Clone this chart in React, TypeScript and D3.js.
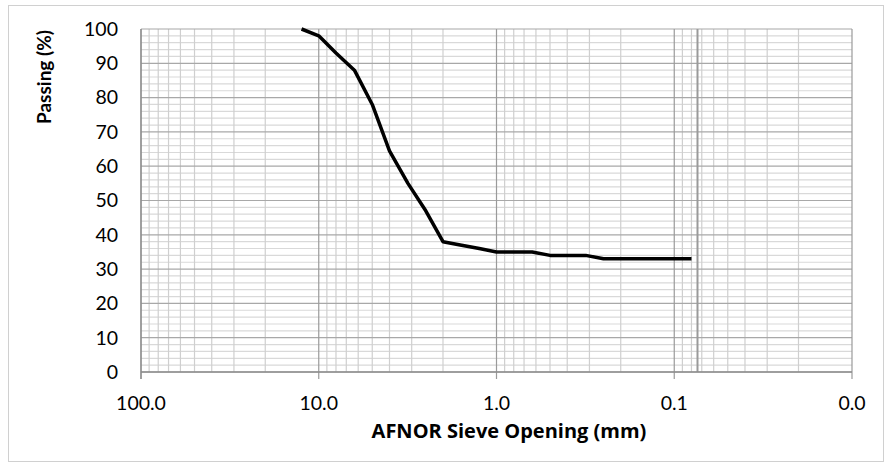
import React from "react";
import * as d3 from "d3";

const sieveSizes = [12.5, 10, 8, 6.3, 5, 4, 3.15, 2.5, 2, 1.6, 1.25, 1, 0.8, 0.63, 0.5, 0.4, 0.315, 0.25, 0.2, 0.16, 0.125, 0.1, 0.08];
const passing = [100, 98, 93, 88, 78, 64.5, 55, 47, 38, 37, 36, 35, 35, 35, 34, 34, 34, 33, 33, 33, 33, 33, 33];
const xTickValues = [100, 10, 1, 0.1, 0.01];
const xTickLabels = ["100.0", "10.0", "1.0", "0.1", "0.0"];
const yTickValues = [0, 10, 20, 30, 40, 50, 60, 70, 80, 90, 100];
const refLines = [0.074];

const W = 891;
const H = 464;
const FONT = "Lato, 'Open Sans', sans-serif";

export default function App() {
  const x = d3.scaleLog().domain([100, 0.01]).range([141, 852]);
  const y = d3.scaleLinear().domain([0, 100]).range([372, 29]);

  const minorX: number[] = [];
  for (const dec of [10, 1, 0.1, 0.01]) {
    for (let k = 2; k <= 9; k++) minorX.push(dec * k);
  }
  const minorY: number[] = d3.range(0, 101, 2).filter((v) => v % 10 !== 0);

  const line = d3
    .line<number>()
    .x((_, i) => x(sieveSizes[i]))
    .y((d) => y(d));

  const [y0, y1] = y.range();

  return (
    <svg width={W} height={H} style={{ position: "absolute", left: 0, top: 0 }}>
      <rect x={0} y={0} width={W} height={H} fill="#fff" />
      <rect x={8.5} y={5.5} width={875} height={456} fill="none" stroke="#d0d0d0" strokeWidth={1} />
      {minorY.map((v) => (
        <line key={"my" + v} x1={x.range()[0]} x2={x.range()[1]} y1={y(v)} y2={y(v)} stroke="#d9d9d9" strokeWidth={1.2} />
      ))}
      {minorX.map((v) => (
        <line key={"mx" + v} x1={x(v)} x2={x(v)} y1={y0} y2={y1} stroke="#cfcfcf" strokeWidth={1.2} />
      ))}
      {yTickValues.map((v) => (
        <line key={"gy" + v} x1={x.range()[0]} x2={x.range()[1]} y1={y(v)} y2={y(v)} stroke="#a8a8a8" strokeWidth={1.2} />
      ))}
      {xTickValues.map((v) => (
        <line key={"gx" + v} x1={x(v)} x2={x(v)} y1={y0 + 7} y2={y1} stroke="#9a9a9a" strokeWidth={1.2} />
      ))}
      {refLines.map((v) => (
        <line key={"r" + v} x1={x(v)} x2={x(v)} y1={y0} y2={y1} stroke="#9a9a9a" strokeWidth={2} />
      ))}
      <line x1={x.range()[0]} x2={x.range()[0]} y1={y0 + 7} y2={y1} stroke="#8c8c8c" strokeWidth={1.3} />
      <line x1={x.range()[0]} x2={x.range()[1]} y1={y0} y2={y0} stroke="#8c8c8c" strokeWidth={1.3} />
      <path d={line(passing) || ""} fill="none" stroke="#000" strokeWidth={3.5} strokeLinejoin="round" />
      {yTickValues.map((v) => (
        <text key={"ty" + v} x={118} y={y(v)} dy="0.35em" textAnchor="end" fontFamily={FONT} fontSize={19.5} fill="#000">
          {v}
        </text>
      ))}
      {xTickValues.map((v, i) => (
        <text key={"tx" + v} x={x(v)} y={403} dy="0.35em" textAnchor="middle" fontFamily={FONT} fontSize={19.5} fill="#000">
          {xTickLabels[i]}
        </text>
      ))}
      <text x={509} y={431} dy="0.35em" textAnchor="middle" fontFamily="'Open Sans', Lato, sans-serif" fontSize={20} fontWeight="bold" fill="#000">
        AFNOR Sieve Opening (mm)
      </text>
      <text
        transform="translate(44,77) rotate(-90)"
        dy="0.35em"
        textAnchor="middle"
        fontFamily={FONT}
        fontSize={19}
        fontWeight="bold"
        fill="#000"
      >
        Passing (%)
      </text>
    </svg>
  );
}
